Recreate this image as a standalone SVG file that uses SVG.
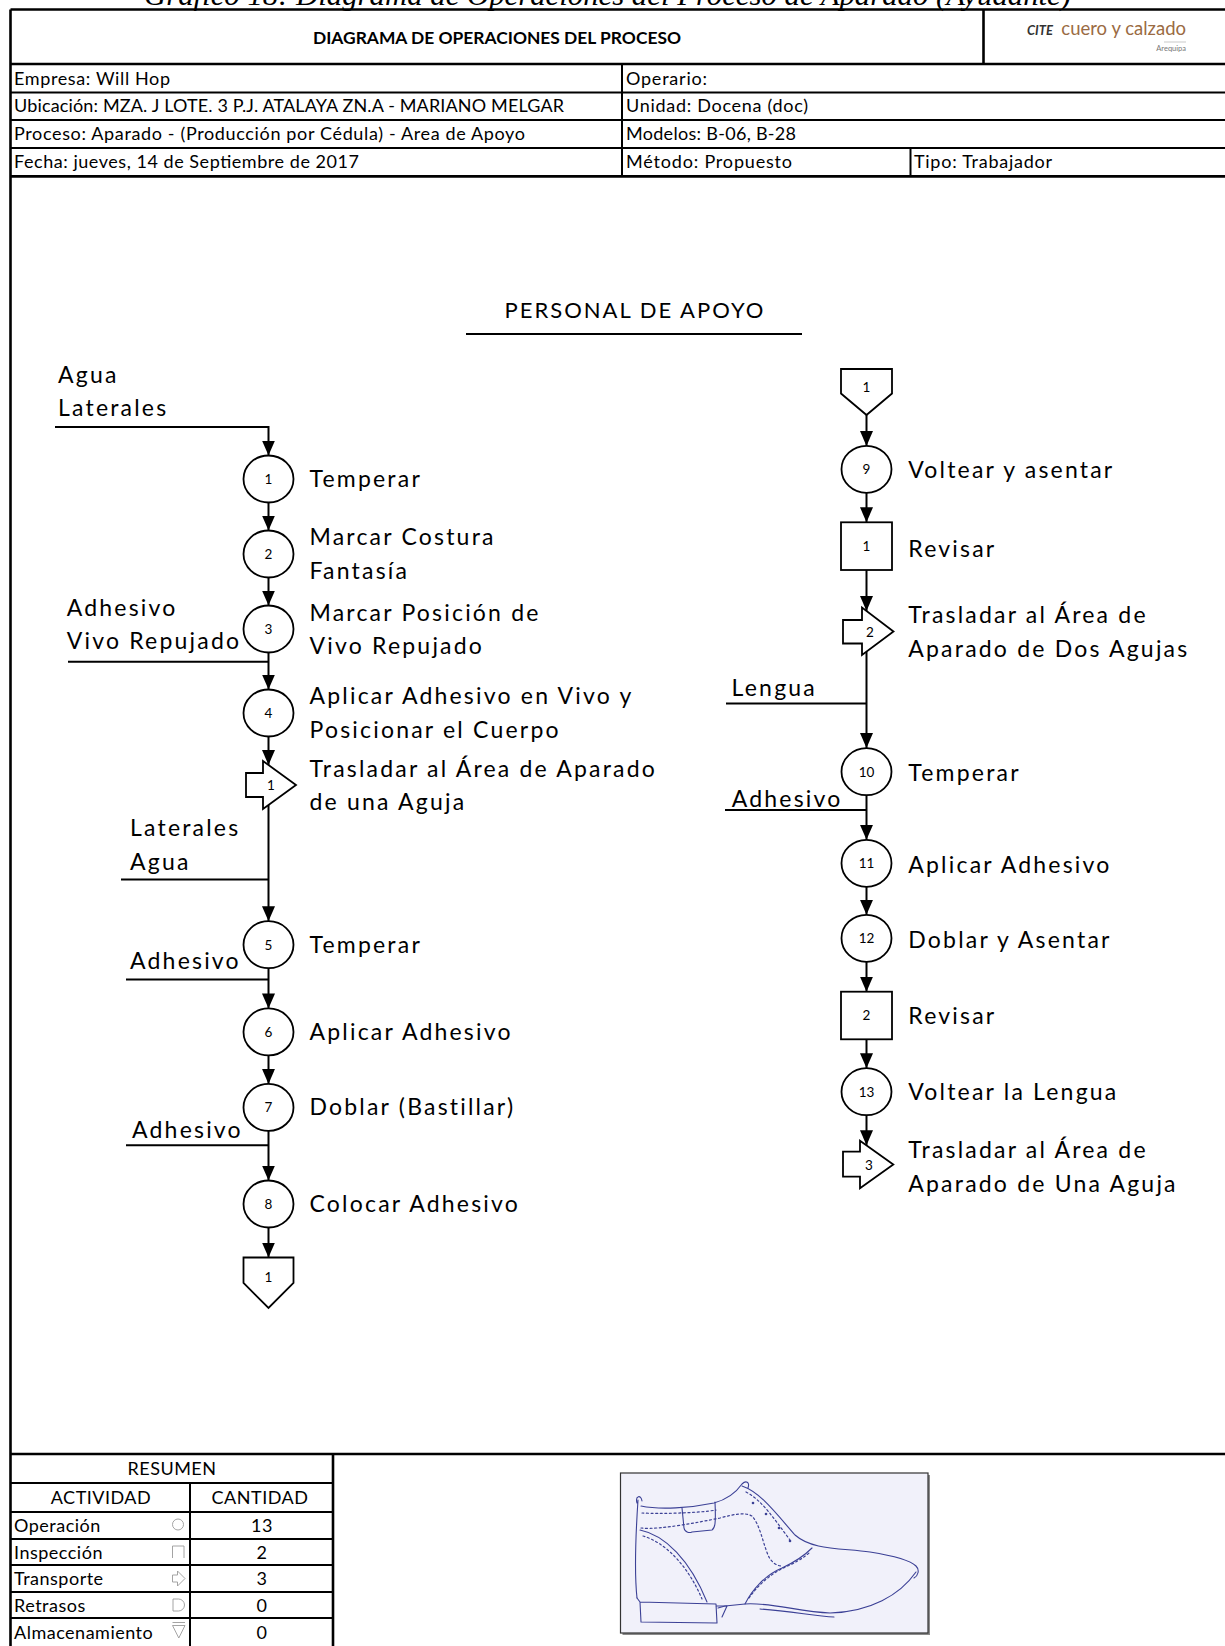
<svg xmlns="http://www.w3.org/2000/svg" width="1225" height="1646" viewBox="0 0 1225 1646">
  <style>
    .frame { stroke: #000; stroke-width: 2.6; fill: none; }
    .grid { stroke: #000; stroke-width: 2; fill: none; }
    .flow { stroke: #000; stroke-width: 2; fill: none; }
    .shape { stroke: #000; stroke-width: 1.8; fill: #fff; }
    .lbl { font-family: Lato, "Liberation Sans", sans-serif; font-size: 23px; letter-spacing: 2.2px; fill: #000; }
    .num { font-family: Lato, "Liberation Sans", sans-serif; font-size: 13.5px; fill: #000; text-anchor: middle; }
    .info { font-family: Lato, "Liberation Sans", sans-serif; font-size: 18px; fill: #000; }
    .tbl { font-family: Lato, "Liberation Sans", sans-serif; font-size: 18px; letter-spacing: 0.5px; fill: #000; }
    .mid { text-anchor: middle; }
    .sym { stroke: #9a9a9a; stroke-width: 0.9; fill: none; }
    .pen { stroke: #3c4196; stroke-width: 1.1; fill: none; stroke-linecap: round; stroke-linejoin: round; }
    .dots { stroke: #3c4196; stroke-width: 1.2; fill: none; stroke-dasharray: 2 2.6; stroke-linecap: round; }
  </style>
  <defs>
    <marker id="arrow" viewBox="0 0 15 13" refX="15" refY="6.5" markerWidth="15" markerHeight="13" markerUnits="userSpaceOnUse" orient="auto">
      <path d="M0,0 L15,6.5 L0,13 Z" fill="#000"/>
    </marker>
  </defs>

  <rect width="1225" height="1646" fill="#fff"/>

  <!-- caption above the sheet, clipped by the page top -->
  <text x="144" y="5" font-family="'Liberation Serif', serif" font-style="italic" font-size="30" textLength="927" lengthAdjust="spacingAndGlyphs">Gráfico 18: Diagrama de Operaciones del Proceso de Aparado (Ayudante)</text>

  <!-- sheet header -->
  <g id="header">
    <line class="frame" x1="10.5" y1="9.5" x2="1225" y2="9.5"/>
    <line class="frame" x1="10.5" y1="9.5" x2="10.5" y2="1646"/>
    <line class="frame" x1="983.5" y1="9.5" x2="983.5" y2="64"/>
    <line class="frame" x1="10.5" y1="64" x2="1225" y2="64"/>
    <line class="grid" x1="10.5" y1="92.4" x2="1225" y2="92.4"/>
    <line class="grid" x1="10.5" y1="120" x2="1225" y2="120"/>
    <line class="grid" x1="10.5" y1="148" x2="1225" y2="148"/>
    <line class="frame" x1="10.5" y1="176.4" x2="1225" y2="176.4"/>
    <line class="grid" x1="622" y1="64" x2="622" y2="177"/>
    <line class="grid" x1="910.5" y1="148" x2="910.5" y2="176.4"/>

    <text x="497" y="44" font-family="Lato, 'Liberation Sans', sans-serif" font-weight="bold" font-size="17.4" text-anchor="middle">DIAGRAMA DE OPERACIONES DEL PROCESO</text>

    <text x="1027" y="35" font-family="Lato, 'Liberation Sans', sans-serif" font-style="italic" font-weight="bold" font-size="13" fill="#333">CITE</text>
    <text x="1186" y="35" font-family="Lato, 'Liberation Sans', sans-serif" font-size="18.5" fill="#9a6b43" text-anchor="end">cuero y calzado</text>
    <line x1="1164" y1="42" x2="1186" y2="42" stroke="#bbb" stroke-width="0.8"/>
    <text x="1186" y="51" font-family="Lato, 'Liberation Sans', sans-serif" font-size="7.5" fill="#777" text-anchor="end">Arequipa</text>

    <text class="info" x="14" y="84.5" textLength="156">Empresa: Will Hop</text>
    <text class="info" x="14" y="112" textLength="550">Ubicación: MZA. J LOTE. 3 P.J. ATALAYA ZN.A - MARIANO MELGAR</text>
    <text class="info" x="14" y="139.5" textLength="511">Proceso: Aparado - (Producción por Cédula) - Area de Apoyo</text>
    <text class="info" x="14" y="167.5" textLength="345">Fecha: jueves, 14 de Septiembre de 2017</text>
    <text class="info" x="626" y="84.5" textLength="81">Operario:</text>
    <text class="info" x="626" y="112" textLength="182">Unidad: Docena (doc)</text>
    <text class="info" x="626" y="139.5" textLength="170">Modelos: B-06, B-28</text>
    <text class="info" x="626" y="167.5" textLength="166">Método: Propuesto</text>
    <text class="info" x="914" y="167.5" textLength="138">Tipo: Trabajador</text>
  </g>

  <!-- section title -->
  <g id="title">
    <text class="lbl mid" x="635" y="318" style="font-size:22px;letter-spacing:2px">PERSONAL DE APOYO</text>
    <line x1="466" y1="334" x2="802" y2="334" stroke="#000" stroke-width="1.8"/>
  </g>

  <!-- connectors -->
  <g id="connectors">
    <!-- left column -->
    <polyline class="flow" points="55,427 268.5,427 268.5,455.5" marker-end="url(#arrow)"/>
    <line class="flow" x1="268.5" y1="502.5" x2="268.5" y2="530.5" marker-end="url(#arrow)"/>
    <line class="flow" x1="268.5" y1="577.5" x2="268.5" y2="605.5" marker-end="url(#arrow)"/>
    <line class="flow" x1="268.5" y1="652.5" x2="268.5" y2="689.5" marker-end="url(#arrow)"/>
    <line class="flow" x1="68" y1="661.7" x2="268.5" y2="661.7"/>
    <line class="flow" x1="268.5" y1="736.5" x2="268.5" y2="765" marker-end="url(#arrow)"/>
    <line class="flow" x1="268.5" y1="805" x2="268.5" y2="921.2" marker-end="url(#arrow)"/>
    <line class="flow" x1="121" y1="879.6" x2="268.5" y2="879.6"/>
    <line class="flow" x1="268.5" y1="968.2" x2="268.5" y2="1008.4" marker-end="url(#arrow)"/>
    <line class="flow" x1="126" y1="979.4" x2="268.5" y2="979.4"/>
    <line class="flow" x1="268.5" y1="1055.4" x2="268.5" y2="1083.9" marker-end="url(#arrow)"/>
    <line class="flow" x1="268.5" y1="1130.9" x2="268.5" y2="1180.5" marker-end="url(#arrow)"/>
    <line class="flow" x1="126" y1="1145.2" x2="268.5" y2="1145.2"/>
    <line class="flow" x1="268.5" y1="1227.5" x2="268.5" y2="1257.5" marker-end="url(#arrow)"/>

    <!-- right column -->
    <line class="flow" x1="866.5" y1="415" x2="866.5" y2="446" marker-end="url(#arrow)"/>
    <line class="flow" x1="866.5" y1="492.7" x2="866.5" y2="522.3" marker-end="url(#arrow)"/>
    <line class="flow" x1="866.5" y1="570" x2="866.5" y2="611" marker-end="url(#arrow)"/>
    <line class="flow" x1="866.5" y1="651.6" x2="866.5" y2="748" marker-end="url(#arrow)"/>
    <line class="flow" x1="726" y1="703.5" x2="866.5" y2="703.5"/>
    <line class="flow" x1="866.5" y1="795.4" x2="866.5" y2="839.8" marker-end="url(#arrow)"/>
    <line class="flow" x1="725" y1="810" x2="866.5" y2="810"/>
    <line class="flow" x1="866.5" y1="886.8" x2="866.5" y2="914.8" marker-end="url(#arrow)"/>
    <line class="flow" x1="866.5" y1="961.8" x2="866.5" y2="991.7" marker-end="url(#arrow)"/>
    <line class="flow" x1="866.5" y1="1039.3" x2="866.5" y2="1068.2" marker-end="url(#arrow)"/>
    <line class="flow" x1="866.5" y1="1115.2" x2="866.5" y2="1145.3" marker-end="url(#arrow)"/>
  </g>

  <!-- input labels -->
  <g id="inputs">
    <text class="lbl" x="58" y="383">Agua</text>
    <text class="lbl" x="58" y="416">Laterales</text>
    <text class="lbl" x="66.7" y="616">Adhesivo</text>
    <text class="lbl" x="66.7" y="649">Vivo Repujado</text>
    <text class="lbl" x="130" y="836">Laterales</text>
    <text class="lbl" x="130" y="869.5">Agua</text>
    <text class="lbl" x="130" y="968.5">Adhesivo</text>
    <text class="lbl" x="132" y="1137.5">Adhesivo</text>
    <text class="lbl" x="731.6" y="696">Lengua</text>
    <text class="lbl" x="731.7" y="806.7">Adhesivo</text>
  </g>

  <!-- left column steps -->
  <g id="op1"><ellipse class="shape" cx="268.5" cy="479" rx="25" ry="23.5"/><text class="num" x="268.5" y="483.8">1</text><text class="lbl" x="309.5" y="486.5">Temperar</text></g>
  <g id="op2"><ellipse class="shape" cx="268.5" cy="554" rx="25" ry="23.5"/><text class="num" x="268.5" y="558.8">2</text><text class="lbl" x="309.5" y="545">Marcar Costura</text><text class="lbl" x="309.5" y="579">Fantasía</text></g>
  <g id="op3"><ellipse class="shape" cx="268.5" cy="629" rx="25" ry="23.5"/><text class="num" x="268.5" y="633.8">3</text><text class="lbl" x="309.5" y="620.5">Marcar Posición de</text><text class="lbl" x="309.5" y="654">Vivo Repujado</text></g>
  <g id="op4"><ellipse class="shape" cx="268.5" cy="713" rx="25" ry="23.5"/><text class="num" x="268.5" y="717.8">4</text><text class="lbl" x="309.5" y="704">Aplicar Adhesivo en Vivo y</text><text class="lbl" x="309.5" y="737.5">Posicionar el Cuerpo</text></g>
  <g id="tr1"><polygon class="shape" points="246,773 263,773 263,761 296,785 263,809 263,797 246,797"/><text class="num" x="271" y="790">1</text><text class="lbl" x="309.5" y="776.5">Trasladar al Área de Aparado</text><text class="lbl" x="309.5" y="810">de una Aguja</text></g>
  <g id="op5"><ellipse class="shape" cx="268.5" cy="944.7" rx="25" ry="23.5"/><text class="num" x="268.5" y="949.5">5</text><text class="lbl" x="309.5" y="952.7">Temperar</text></g>
  <g id="op6"><ellipse class="shape" cx="268.5" cy="1031.9" rx="25" ry="23.5"/><text class="num" x="268.5" y="1036.7">6</text><text class="lbl" x="309.5" y="1040">Aplicar Adhesivo</text></g>
  <g id="op7"><ellipse class="shape" cx="268.5" cy="1107.4" rx="25" ry="23.5"/><text class="num" x="268.5" y="1112.2">7</text><text class="lbl" x="309.5" y="1115.4">Doblar (Bastillar)</text></g>
  <g id="op8"><ellipse class="shape" cx="268.5" cy="1204" rx="25" ry="23.5"/><text class="num" x="268.5" y="1208.8">8</text><text class="lbl" x="309.5" y="1212">Colocar Adhesivo</text></g>
  <g id="link-out"><polygon class="shape" points="243.5,1257.5 293.5,1257.5 293.5,1283 268.5,1308 243.5,1283"/><text class="num" x="268.5" y="1281.5">1</text></g>

  <!-- right column steps -->
  <g id="link-in"><polygon class="shape" points="841,369 892,369 892,393.5 866.5,415 841,393.5"/><text class="num" x="866.5" y="392">1</text></g>
  <g id="op9"><ellipse class="shape" cx="866.5" cy="469.3" rx="25" ry="23.5"/><text class="num" x="866.5" y="474.1">9</text><text class="lbl" x="908.3" y="478.3">Voltear y asentar</text></g>
  <g id="ins1"><rect class="shape" x="841" y="522.3" width="51" height="47.7"/><text class="num" x="866.5" y="551">1</text><text class="lbl" x="908.3" y="557.3">Revisar</text></g>
  <g id="tr2"><polygon class="shape" points="843,620 862,620 862,607.5 893.5,631.5 862,655 862,643.5 843,643.5"/><text class="num" x="870" y="636.5">2</text><text class="lbl" x="908.3" y="623.3">Trasladar al Área de</text><text class="lbl" x="908.3" y="656.7">Aparado de Dos Agujas</text></g>
  <g id="op10"><ellipse class="shape" cx="866.5" cy="771.7" rx="25" ry="23.5"/><text class="num" x="866.5" y="776.5">10</text><text class="lbl" x="908.3" y="781">Temperar</text></g>
  <g id="op11"><ellipse class="shape" cx="866.5" cy="863.3" rx="25" ry="23.5"/><text class="num" x="866.5" y="868.1">11</text><text class="lbl" x="908.3" y="872.7">Aplicar Adhesivo</text></g>
  <g id="op12"><ellipse class="shape" cx="866.5" cy="938.3" rx="25" ry="23.5"/><text class="num" x="866.5" y="943.1">12</text><text class="lbl" x="908.3" y="948.3">Doblar y Asentar</text></g>
  <g id="ins2"><rect class="shape" x="841" y="991.7" width="51" height="47.6"/><text class="num" x="866.5" y="1020.3">2</text><text class="lbl" x="908.3" y="1024">Revisar</text></g>
  <g id="op13"><ellipse class="shape" cx="866.5" cy="1091.7" rx="25" ry="23.5"/><text class="num" x="866.5" y="1096.5">13</text><text class="lbl" x="908.3" y="1100">Voltear la Lengua</text></g>
  <g id="tr3"><polygon class="shape" points="843,1151.7 860,1151.7 860,1140.7 893.3,1164.5 860,1188.3 860,1176.7 843,1176.7"/><text class="num" x="869" y="1169.5">3</text><text class="lbl" x="908.3" y="1158.3">Trasladar al Área de</text><text class="lbl" x="908.3" y="1191.7">Aparado de Una Aguja</text></g>

  <!-- summary table -->
  <g id="summary">
    <line class="frame" x1="10.5" y1="1454" x2="1225" y2="1454"/>
    <line class="frame" x1="333" y1="1454" x2="333" y2="1646"/>
    <line class="grid" x1="10.5" y1="1483" x2="333" y2="1483"/>
    <line class="grid" x1="10.5" y1="1512" x2="333" y2="1512"/>
    <line class="grid" x1="10.5" y1="1539" x2="333" y2="1539"/>
    <line class="grid" x1="10.5" y1="1565" x2="333" y2="1565"/>
    <line class="grid" x1="10.5" y1="1592" x2="333" y2="1592"/>
    <line class="grid" x1="10.5" y1="1618" x2="333" y2="1618"/>
    <line class="grid" x1="190" y1="1483" x2="190" y2="1646"/>

    <text class="tbl mid" x="172" y="1475">RESUMEN</text>
    <text class="tbl mid" x="101" y="1504">ACTIVIDAD</text>
    <text class="tbl mid" x="260" y="1504">CANTIDAD</text>
    <text class="tbl" x="14" y="1532">Operación</text>
    <text class="tbl" x="14" y="1559">Inspección</text>
    <text class="tbl" x="14" y="1585">Transporte</text>
    <text class="tbl" x="14" y="1612">Retrasos</text>
    <text class="tbl" x="14" y="1639">Almacenamiento</text>
    <text class="tbl mid" x="262" y="1532">13</text>
    <text class="tbl mid" x="262" y="1559">2</text>
    <text class="tbl mid" x="262" y="1585">3</text>
    <text class="tbl mid" x="262" y="1612">0</text>
    <text class="tbl mid" x="262" y="1639">0</text>

    <circle class="sym" cx="178" cy="1524.5" r="5.5"/>
    <path class="sym" d="M172.5,1558 L172.5,1546 L184,1546 L184,1558"/>
    <polygon class="sym" points="172.5,1575 177.5,1575 177.5,1571 185,1578.5 177.5,1586 177.5,1582 172.5,1582"/>
    <path class="sym" d="M173,1599 L178.5,1599 A6,6 0 0 1 178.5,1611 L173,1611 Z"/>
    <path class="sym" d="M172.5,1622.5 L185,1622.5 M172.5,1625.5 L185,1625.5 L178.8,1638 Z"/>
  </g>

  <!-- product sketch -->
  <g id="sketch">
    <rect x="622.5" y="1475" width="307.5" height="160" fill="#8a8a8a"/>
    <rect x="620.5" y="1473" width="307.5" height="160" fill="#f1f1fa" stroke="#333" stroke-width="1.2"/>
    <!-- heel counter and collar -->
    <path class="pen" d="M637,1503 C635,1496 641,1494 642,1501 M638,1500 C636,1530 634,1570 637,1598"/>
    <path class="pen" d="M641,1506 C660,1510 690,1508 714,1503 C725,1500 735,1494 742,1484 C746,1480 750,1482 748,1488"/>
    <!-- vamp and toe -->
    <path class="pen" d="M742,1486 C760,1492 775,1512 795,1535 C812,1550 840,1548 870,1552 C895,1556 910,1560 916,1566 C920,1570 918,1576 914,1578"/>
    <!-- sole -->
    <path class="pen" d="M916,1572 C900,1595 870,1612 830,1613 C800,1612 770,1602 745,1604 L725,1606 L718,1608"/>
    <path class="pen" d="M760,1609 C790,1611 815,1616 834,1617"/>
    <!-- heel -->
    <path class="pen" d="M637,1598 L640,1602 L716,1604 L717,1623 M640,1602 L641,1622 L717,1623 M716,1606 L727,1606 L722,1617"/>
    <!-- quarter piece -->
    <path class="pen" d="M640,1530 C665,1535 690,1560 707,1602"/>
    <path class="dots" d="M643,1536 C667,1543 689,1568 702,1599"/>
    <!-- pull tab -->
    <path class="pen" d="M682,1508 L684,1528 C685,1533 690,1533 692,1532 L712,1530 C715,1528 716,1524 715,1502"/>
    <!-- stitching -->
    <path class="dots" d="M642,1513 C660,1514 700,1513 716,1510"/>
    <path class="dots" d="M641,1528 C660,1530 700,1522 720,1518 C735,1514 745,1512 752,1516 C760,1525 762,1540 768,1555 C770,1560 775,1566 782,1566"/>
    <path class="dots" d="M746,1492 C762,1500 775,1520 790,1540"/>
    <path class="pen" d="M745,1604 C752,1590 765,1575 782,1568 C795,1562 805,1555 812,1548"/>
    <path class="dots" d="M749,1598 C758,1585 772,1572 790,1565 C800,1560 806,1556 810,1552"/>
    <g fill="#3c4196">
      <circle cx="753" cy="1503" r="1.3"/>
      <circle cx="766" cy="1514" r="1.3"/>
      <circle cx="779" cy="1528" r="1.3"/>
      <circle cx="790" cy="1541" r="1.3"/>
    </g>
  </g>
</svg>
